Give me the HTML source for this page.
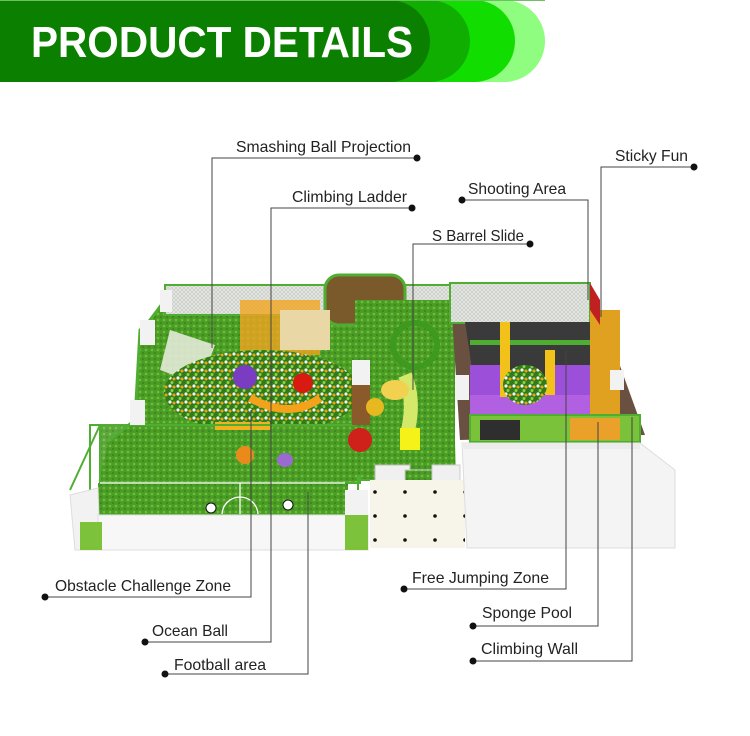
<!DOCTYPE html>
<html><head><meta charset="utf-8"><style>
html,body{margin:0;padding:0;background:#fff;}
svg{display:block;}
text{font-family:"Liberation Sans",sans-serif;}
</style></head><body>
<svg width="750" height="736" viewBox="0 0 750 736" xmlns="http://www.w3.org/2000/svg">
<defs>
<pattern id="grass" width="6" height="6" patternUnits="userSpaceOnUse">
<rect width="6" height="6" fill="#4a9c25"/><circle cx="2" cy="2" r="1.3" fill="#6cbf3a"/><circle cx="5" cy="5" r="1" fill="#3a8320"/></pattern>
<pattern id="balls" width="8" height="8" patternUnits="userSpaceOnUse">
<rect width="8" height="8" fill="#2f7d1a"/><circle cx="2" cy="2" r="1.6" fill="#f4f4ee"/><circle cx="6" cy="3" r="1.5" fill="#f2a219"/><circle cx="4" cy="6.5" r="1.5" fill="#8fd24a"/></pattern>
<pattern id="mesh" width="4" height="4" patternUnits="userSpaceOnUse">
<rect width="4" height="4" fill="#e4e6e2"/><path d="M0 0L4 4M4 0L0 4" stroke="#c5c8c3" stroke-width="0.6"/></pattern>
<pattern id="tiles" width="30" height="24" patternUnits="userSpaceOnUse">
<rect width="30" height="24" fill="#f7f5ea"/><circle cx="15" cy="12" r="1.8" fill="#111"/></pattern>
</defs>

<rect x="0" y="0" width="545" height="82" rx="41" fill="#8ffe80"/>
<rect x="0" y="0" width="515" height="82" rx="41" fill="#12dd00"/>
<rect x="0" y="0" width="470" height="82" rx="41" fill="#0fae00"/>
<rect x="0" y="0" width="430" height="82" rx="41" fill="#0b8000"/>
<rect x="0" y="0" width="60" height="82" fill="#0b8000"/>
<rect x="0" y="0" width="545" height="1" fill="#6fc060"/>
<text x="31" y="57" font-size="44" font-weight="bold" fill="#fff" textLength="382" lengthAdjust="spacingAndGlyphs">PRODUCT DETAILS</text>

<polygon points="165,285 450,285 455,480 100,480 110,440 135,420 140,330 150,320 165,300" fill="url(#grass)" stroke="#4fae32" stroke-width="2"/>
<rect x="165" y="285" width="285" height="30" fill="url(#mesh)" stroke="#4fae32" stroke-width="2"/>
<rect x="325" y="275" width="80" height="50" rx="14" fill="#7a5a2a" stroke="#4fae32" stroke-width="3"/>
<rect x="240" y="300" width="80" height="55" fill="#f0a520" opacity="0.8"/>
<rect x="280" y="310" width="50" height="40" fill="#e9d8a6"/>
<polygon points="170,330 215,345 200,385 160,370" fill="#e3ead8" opacity="0.9"/>
<ellipse cx="262" cy="392" rx="98" ry="42" fill="url(#balls)"/>
<circle cx="245" cy="377" r="12" fill="#7a3cc0"/>
<circle cx="303" cy="383" r="10" fill="#d81a10"/>
<path d="M250 398 Q290 420 320 398" stroke="#f4a21a" stroke-width="8" fill="none"/>
<rect x="100" y="425" width="260" height="58" fill="url(#grass)" opacity="0.9"/>
<rect x="100" y="425" width="260" height="58" fill="none" stroke="#4fae32" stroke-width="2"/>
<circle cx="245" cy="455" r="9" fill="#e98a1b"/>
<ellipse cx="285" cy="460" rx="8" ry="7" fill="#9a6ad0"/>
<rect x="215" y="422" width="55" height="8" fill="#f2b11f"/>
<rect x="98" y="483" width="250" height="32" fill="url(#grass)"/>
<path d="M100 483H345M240 483V515M222 515A18 18 0 0 1 258 515" stroke="#fff" stroke-width="1.3" fill="none"/>
<circle cx="211" cy="508" r="5" fill="#fff" stroke="#111"/>
<circle cx="288" cy="505" r="5" fill="#fff" stroke="#111"/>
<rect x="90" y="425" width="268" height="90" fill="none" stroke="#4fae32" stroke-width="2"/>
<line x1="70" y1="490" x2="100" y2="425" stroke="#4fae32" stroke-width="2"/>
<polyline points="110,440 135,420 140,330 150,320 165,300" fill="none" stroke="#4fae32" stroke-width="3"/>
<polygon points="70,495 98,488 100,550 75,550" fill="#f2f2f2" stroke="#ddd"/>
<rect x="98" y="515" width="270" height="35" fill="#f7f7f7" stroke="#ddd"/>
<rect x="80" y="522" width="22" height="28" fill="#7cc23a"/>
<rect x="345" y="515" width="23" height="35" fill="#7cc23a"/>
<rect x="345" y="490" width="23" height="25" fill="#f2f2f2"/>
<rect x="130" y="400" width="15" height="25" fill="#f2f2f2"/>
<rect x="140" y="320" width="15" height="25" fill="#f2f2f2"/>
<rect x="160" y="290" width="12" height="22" fill="#f2f2f2"/>

<rect x="355" y="300" width="100" height="175" fill="url(#grass)"/>
<rect x="352" y="360" width="18" height="25" fill="#f2f2f2"/>
<rect x="352" y="385" width="18" height="40" fill="#8a5a2a"/>
<circle cx="415" cy="345" r="22" fill="none" stroke="#3e9a1e" stroke-width="6"/>
<path d="M405 375 Q415 400 408 430" stroke="#d4e86a" stroke-width="14" fill="none"/>
<ellipse cx="395" cy="390" rx="14" ry="10" fill="#f2d050"/>
<circle cx="375" cy="407" r="9" fill="#e8b820"/>
<rect x="400" y="428" width="20" height="22" fill="#f5f21a"/>
<circle cx="360" cy="440" r="12" fill="#d0201a"/>
<rect x="375" y="465" width="35" height="25" fill="#f0f0f0" stroke="#bbb"/>
<rect x="405" y="470" width="28" height="15" fill="url(#grass)" stroke="#ccc"/>
<rect x="432" y="465" width="28" height="22" fill="#f0f0f0" stroke="#ccc"/>
<rect x="370" y="480" width="95" height="68" fill="url(#tiles)"/>

<polygon points="450,283 590,283 645,435 460,440" fill="#6a5040"/>
<rect x="450" y="283" width="140" height="40" fill="url(#mesh)" stroke="#4fae32" stroke-width="2"/>
<polygon points="465,322 590,322 600,355 470,355" fill="#3a3a3a"/>
<polygon points="470,355 600,355 615,395 475,395" fill="#3a3a3a"/>
<rect x="470" y="340" width="140" height="5" fill="#4fae32"/>
<rect x="470" y="365" width="30" height="30" fill="#9c4fd8"/>
<rect x="555" y="365" width="55" height="30" fill="#9c4fd8"/>
<rect x="470" y="395" width="150" height="25" fill="#b060e0"/>
<rect x="500" y="322" width="10" height="75" fill="#f2c21a"/>
<rect x="545" y="350" width="10" height="45" fill="#f2c21a"/>
<ellipse cx="525" cy="385" rx="22" ry="20" fill="url(#balls)"/>
<rect x="590" y="310" width="30" height="110" fill="#e0a020"/>
<polygon points="590,283 600,300 600,325 590,310" fill="#c02020"/>
<rect x="455" y="375" width="14" height="25" fill="#f2f2f2"/>
<rect x="610" y="370" width="14" height="20" fill="#f2f2f2"/>
<rect x="470" y="415" width="170" height="27" fill="#79c23a" stroke="#4fae32" stroke-width="2"/>
<rect x="480" y="420" width="40" height="20" fill="#2e2e2e"/>
<rect x="570" y="418" width="50" height="22" fill="#e9a12a"/>
<polygon points="462,443 640,443 675,470 675,548 467,548" fill="#f4f4f4" stroke="#ddd"/>
<rect x="462" y="443" width="178" height="6" fill="#ececec"/>

<g stroke="#444" stroke-width="1" fill="none">
<polyline points="417,158 212,158 212,348"/>
<polyline points="412,208 271,208 271,642 145,642"/>
<polyline points="462,200 588,200 588,300"/>
<polyline points="530,244 413,244 413,390"/>
<polyline points="694,167 601,167 601,317"/>
<polyline points="47,597 251,597 251,410"/>
<polyline points="165,674 308,674 308,492"/>
<polyline points="404,589 566,589 566,350"/>
<polyline points="473,626 598,626 598,422"/>
<polyline points="473,661 632,661 632,417"/>
</g>
<g fill="#111">
<circle cx="417" cy="158" r="3.5"/><circle cx="412" cy="208" r="3.5"/><circle cx="462" cy="200" r="3.5"/>
<circle cx="530" cy="244" r="3.5"/><circle cx="694" cy="167" r="3.5"/><circle cx="45" cy="597" r="3.5"/>
<circle cx="145" cy="642" r="3.5"/><circle cx="165" cy="674" r="3.5"/><circle cx="404" cy="589" r="3.5"/>
<circle cx="473" cy="626" r="3.5"/><circle cx="473" cy="661" r="3.5"/>
</g>
<g font-size="16" fill="#222">
<text x="236" y="152" textLength="175" lengthAdjust="spacingAndGlyphs">Smashing Ball Projection</text>
<text x="292" y="202" textLength="115" lengthAdjust="spacingAndGlyphs">Climbing Ladder</text>
<text x="468" y="194" textLength="98" lengthAdjust="spacingAndGlyphs">Shooting Area</text>
<text x="432" y="241" textLength="92" lengthAdjust="spacingAndGlyphs">S Barrel Slide</text>
<text x="615" y="161" textLength="73" lengthAdjust="spacingAndGlyphs">Sticky Fun</text>
<text x="55" y="591" textLength="176" lengthAdjust="spacingAndGlyphs">Obstacle Challenge Zone</text>
<text x="152" y="636" textLength="76" lengthAdjust="spacingAndGlyphs">Ocean Ball</text>
<text x="174" y="670" textLength="92" lengthAdjust="spacingAndGlyphs">Football area</text>
<text x="412" y="583" textLength="137" lengthAdjust="spacingAndGlyphs">Free Jumping Zone</text>
<text x="482" y="618" textLength="90" lengthAdjust="spacingAndGlyphs">Sponge Pool</text>
<text x="481" y="654" textLength="97" lengthAdjust="spacingAndGlyphs">Climbing Wall</text>
</g>
</svg>
</body></html>
